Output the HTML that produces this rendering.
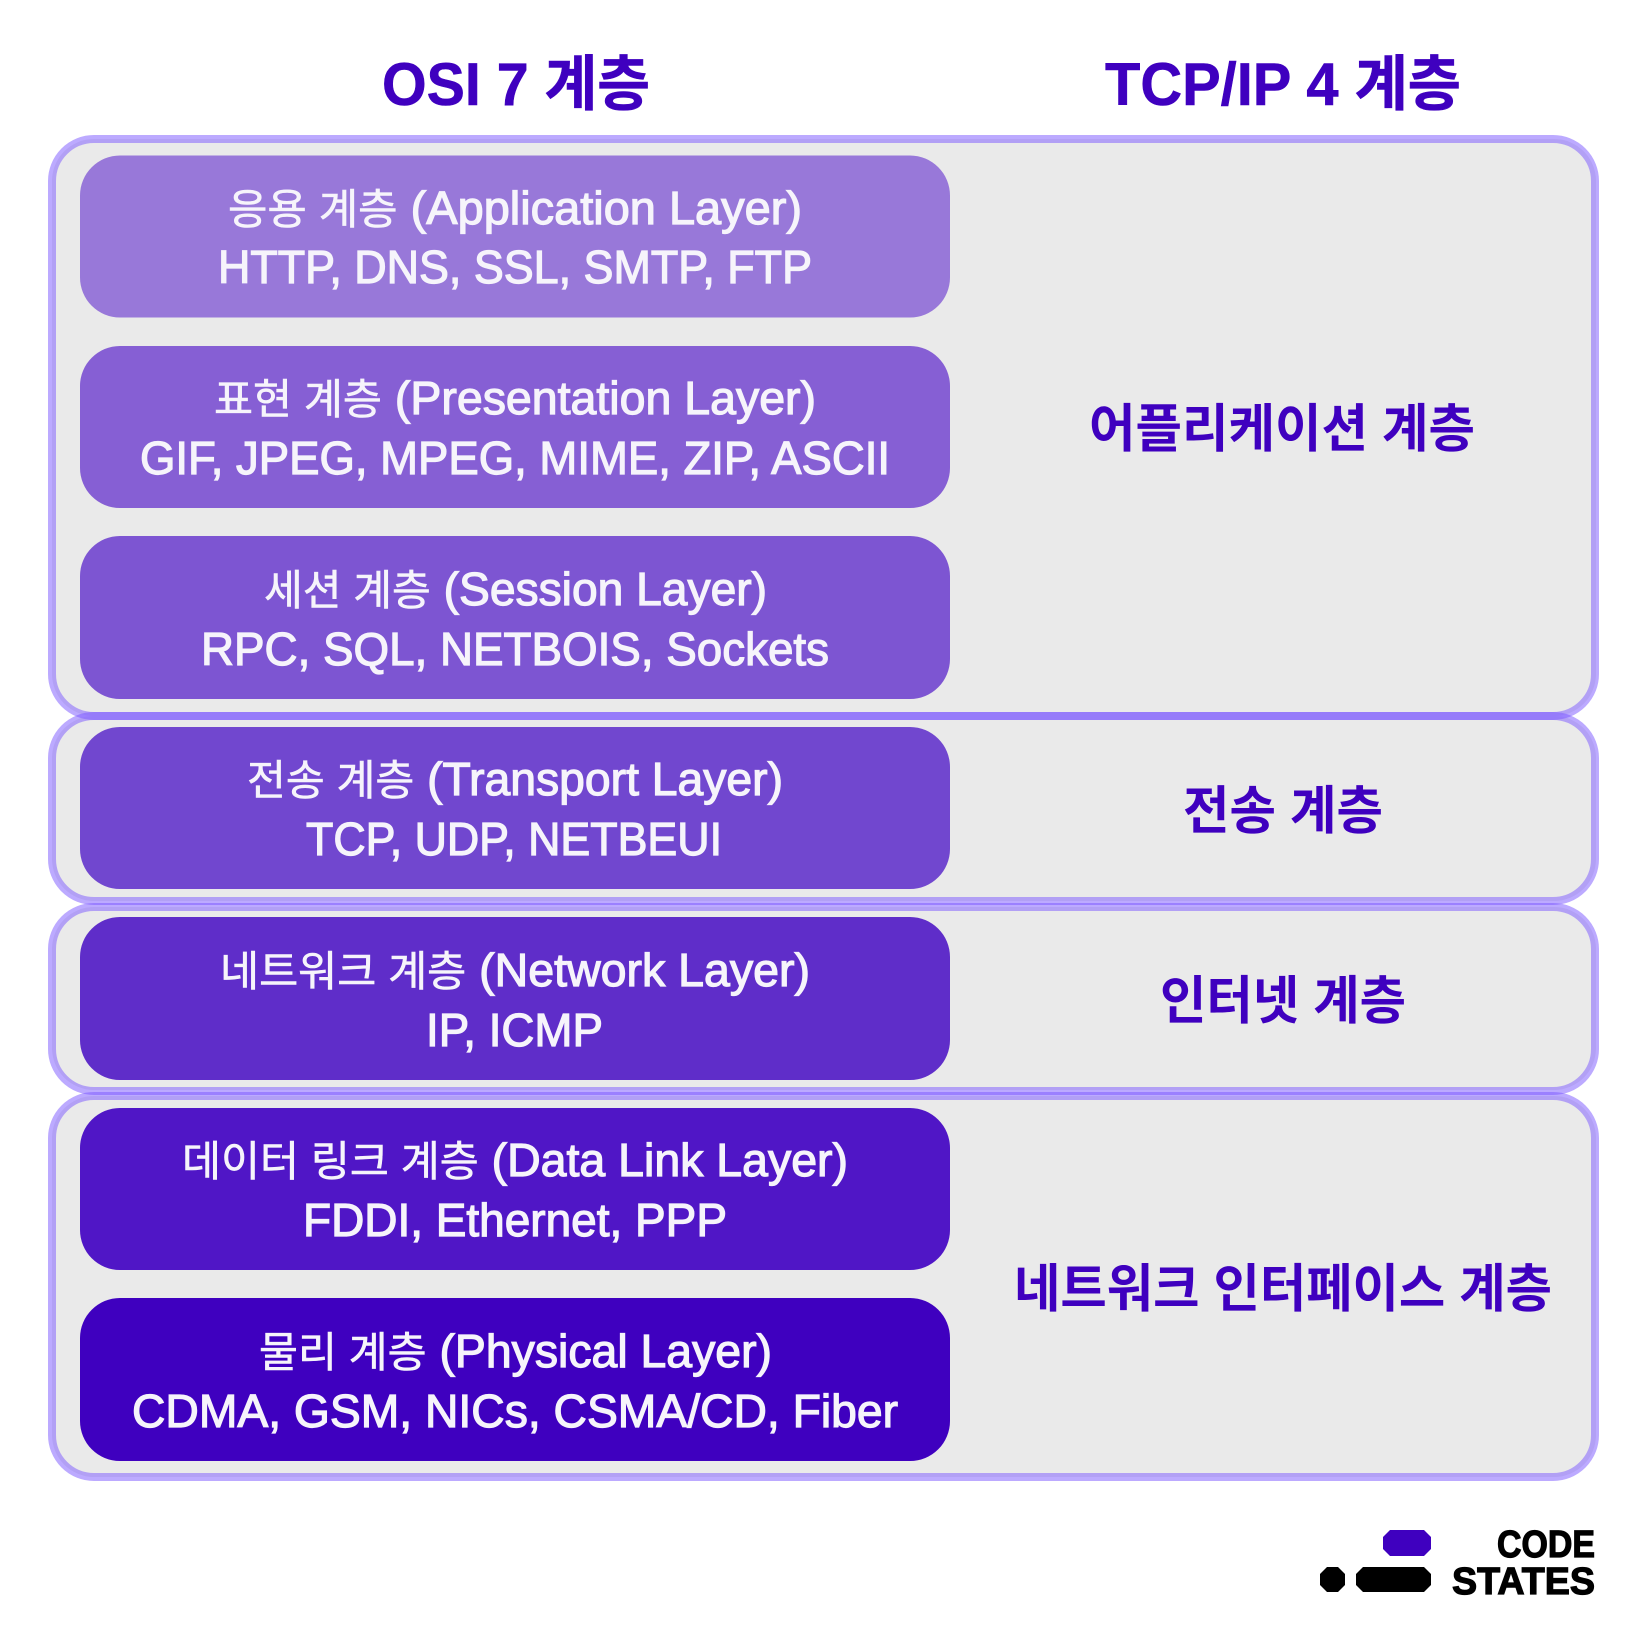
<!DOCTYPE html>
<html lang="ko">
<head>
<meta charset="utf-8">
<title>OSI 7 계층 / TCP/IP 4 계층</title>
<style>
html,body{margin:0;padding:0;background:#fff;width:1648px;height:1646px;overflow:hidden}
svg{display:block}
text{font-family:"Liberation Sans","Noto Sans CJK KR",sans-serif}
.h{font-size:60px;font-weight:700;fill:#3f00bf;stroke:#3f00bf;stroke-width:.6px}
.l1{font-size:46px;fill:#f6f4fb;stroke:#f6f4fb;stroke-width:1.2px}
.l1 .k{font-size:42px;stroke-width:.6px}
.l2{font-size:46px;fill:#f6f4fb;stroke:#f6f4fb;stroke-width:1.2px}
.r{font-size:52px;font-weight:700;fill:#3f00bf}
.outer-fill{fill:#eaeaea}
.outer-stroke{fill:none;stroke:#7a55ff;stroke-opacity:.5;stroke-width:8}
</style>
</head>
<body>
<svg width="1648" height="1646" viewBox="0 0 1648 1646" xmlns="http://www.w3.org/2000/svg">
<text class="h" x="382" y="105" textLength="268" lengthAdjust="spacingAndGlyphs">OSI 7 계층</text>
<text class="h" x="1105" y="105" textLength="356" lengthAdjust="spacingAndGlyphs">TCP/IP 4 계층</text>

<rect class="outer-fill" x="52" y="139" width="1544" height="577" rx="42"/>
<rect class="outer-fill" x="52" y="716" width="1544" height="185" rx="42"/>
<rect class="outer-fill" x="52" y="907" width="1544" height="183" rx="42"/>
<rect class="outer-fill" x="52" y="1096" width="1544" height="381" rx="42"/>
<rect class="outer-stroke" x="52" y="139" width="1543" height="577" rx="42"/>
<rect class="outer-stroke" x="52" y="716" width="1543" height="185" rx="42"/>
<rect class="outer-stroke" x="52" y="907" width="1543" height="184" rx="42"/>
<rect class="outer-stroke" x="52" y="1096" width="1543" height="381" rx="42"/>

<rect x="80" y="155.5" width="870" height="162" rx="40" fill="#9878d9"/>
<rect x="80" y="346" width="870" height="162" rx="40" fill="#865fd4"/>
<rect x="80" y="536" width="870" height="163" rx="40" fill="#7d55d2"/>
<rect x="80" y="727" width="870" height="162" rx="40" fill="#7147cf"/>
<rect x="80" y="917" width="870" height="163" rx="40" fill="#5f2dc9"/>
<rect x="80" y="1108" width="870" height="162" rx="40" fill="#5016c6"/>
<rect x="80" y="1298" width="870" height="163" rx="40" fill="#3f00bf"/>

<text class="l1" x="228" y="224" textLength="574" lengthAdjust="spacingAndGlyphs"><tspan class="k">응용 계층</tspan> (Application Layer)</text>
<text class="l2" x="218" y="283" textLength="594" lengthAdjust="spacingAndGlyphs">HTTP, DNS, SSL, SMTP, FTP</text>
<text class="l1" x="214" y="414" textLength="602" lengthAdjust="spacingAndGlyphs"><tspan class="k">표현 계층</tspan> (Presentation Layer)</text>
<text class="l2" x="140" y="474" textLength="750" lengthAdjust="spacingAndGlyphs">GIF, JPEG, MPEG, MIME, ZIP, ASCII</text>
<text class="l1" x="264" y="605" textLength="503" lengthAdjust="spacingAndGlyphs"><tspan class="k">세션 계층</tspan> (Session Layer)</text>
<text class="l2" x="201" y="665" textLength="628" lengthAdjust="spacingAndGlyphs">RPC, SQL, NETBOIS, Sockets</text>
<text class="l1" x="247" y="795" textLength="536" lengthAdjust="spacingAndGlyphs"><tspan class="k">전송 계층</tspan> (Transport Layer)</text>
<text class="l2" x="306" y="855" textLength="416" lengthAdjust="spacingAndGlyphs">TCP, UDP, NETBEUI</text>
<text class="l1" x="220" y="986" textLength="590" lengthAdjust="spacingAndGlyphs"><tspan class="k">네트워크 계층</tspan> (Network Layer)</text>
<text class="l2" x="426" y="1046" textLength="177" lengthAdjust="spacingAndGlyphs">IP, ICMP</text>
<text class="l1" x="182" y="1176" textLength="666" lengthAdjust="spacingAndGlyphs"><tspan class="k">데이터 링크 계층</tspan> (Data Link Layer)</text>
<text class="l2" x="303" y="1236" textLength="424" lengthAdjust="spacingAndGlyphs">FDDI, Ethernet, PPP</text>
<text class="l1" x="259" y="1367" textLength="513" lengthAdjust="spacingAndGlyphs"><tspan class="k">물리 계층</tspan> (Physical Layer)</text>
<text class="l2" x="132" y="1427" textLength="766" lengthAdjust="spacingAndGlyphs">CDMA, GSM, NICs, CSMA/CD, Fiber</text>

<text class="r" x="1089" y="447" textLength="386" lengthAdjust="spacingAndGlyphs">어플리케이션 계층</text>
<text class="r" x="1183" y="829" textLength="200" lengthAdjust="spacingAndGlyphs">전송 계층</text>
<text class="r" x="1160" y="1019" textLength="246" lengthAdjust="spacingAndGlyphs">인터넷 계층</text>
<text class="r" x="1014" y="1307" textLength="538" lengthAdjust="spacingAndGlyphs">네트워크 인터페이스 계층</text>

<g>
<polygon points="1390,1530 1424,1530 1431,1537 1431,1549 1424,1556 1390,1556 1383,1549 1383,1537" fill="#3f00bf"/>
<polygon points="1327,1567 1338,1567 1345,1574 1345,1585 1338,1592 1327,1592 1320,1585 1320,1574" fill="#000"/>
<polygon points="1363,1567 1424,1567 1431,1574 1431,1585 1424,1592 1363,1592 1356,1585 1356,1574" fill="#000"/>
<text x="1497" y="1557" font-size="38" font-weight="700" fill="#000" stroke="#000" stroke-width="1.2" textLength="98" lengthAdjust="spacingAndGlyphs">CODE</text>
<text x="1452" y="1594" font-size="38" font-weight="700" fill="#000" stroke="#000" stroke-width="1.2" textLength="143" lengthAdjust="spacingAndGlyphs">STATES</text>
</g>
</svg>
</body>
</html>
